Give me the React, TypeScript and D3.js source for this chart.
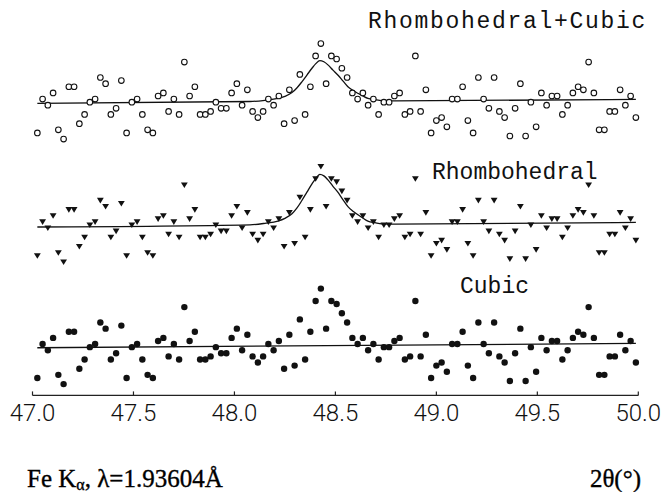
import React from "react";
import * as d3 from "d3";

const W = 665;
const H = 492;

// 2θ scan grid (degrees)
const TWO_THETA = [
  47.024, 47.05, 47.076, 47.102, 47.128, 47.154, 47.18, 47.206, 47.232, 47.258,
  47.284, 47.31, 47.336, 47.362, 47.388, 47.414, 47.44, 47.466, 47.492, 47.518,
  47.544, 47.57, 47.596, 47.622, 47.648, 47.674, 47.7, 47.726, 47.752, 47.778,
  47.804, 47.83, 47.856, 47.882, 47.908, 47.934, 47.96, 47.986, 48.012, 48.038,
  48.064, 48.09, 48.116, 48.142, 48.168, 48.194, 48.22, 48.246, 48.272, 48.298,
  48.324, 48.35, 48.376, 48.402, 48.428, 48.454, 48.48, 48.506, 48.532, 48.558,
  48.584, 48.61, 48.636, 48.662, 48.688, 48.714, 48.74, 48.766, 48.792, 48.818,
  48.844, 48.87, 48.896, 48.922, 48.948, 48.974, 49.0, 49.026, 49.052, 49.078,
  49.104, 49.13, 49.156, 49.182, 49.208, 49.234, 49.26, 49.286, 49.312, 49.338,
  49.364, 49.39, 49.416, 49.442, 49.468, 49.494, 49.52, 49.546, 49.572, 49.598,
  49.624, 49.65, 49.676, 49.702, 49.728, 49.754, 49.78, 49.806, 49.832, 49.858,
  49.884, 49.91, 49.936, 49.962, 49.988,
];

// measured counts at each step
const COUNTS = [
  12, 23, 21, 25, 13, 10, 27, 27, 15, 18,
  22, 23, 30, 28, 18, 20, 29, 12, 22, 23,
  18, 13, 12, 24, 25, 19, 23, 18, 35, 24,
  27, 18, 18, 19, 22, 20, 20, 25, 28, 21,
  26, 19, 17, 19, 23, 21, 24, 15, 26, 16,
  31, 18, 27, 37, 41, 28, 37, 36, 33, 30,
  25, 23, 25, 21, 23, 18, 22, 22, 24, 25,
  18, 19, 37, 19, 26, 12, 16, 17, 14, 23,
  23, 27, 16, 12, 30, 23, 20, 30, 19, 17,
  11, 20, 28, 11, 22, 14, 25, 21, 24, 24,
  18, 21, 25, 27, 26, 35, 25, 13, 13, 19,
  19, 26, 21, 24, 17,
];

// fitted profiles, sampled in 2θ
const FIT_THETA = [
  47.024, 48.077, 48.151, 48.215, 48.25, 48.285, 48.309, 48.334, 48.359, 48.384,
  48.403, 48.423, 48.443, 48.463, 48.488, 48.512, 48.537, 48.562, 48.587, 48.611,
  48.636, 48.661, 48.696, 48.73, 48.795, 49.988,
];
const FIT_MIXED = [
  21.6, 22.2, 22.6, 23.2, 23.9, 25.1, 26.6, 28.6, 30.8, 33.0,
  34.5, 35.5, 35.1, 34.1, 32.4, 30.8, 28.9, 27.0, 25.8, 24.9,
  24.0, 23.2, 22.8, 22.5, 22.4, 22.9,
];
const FIT_RHOMB = [
  21.4, 22.1, 22.6, 23.3, 24.2, 25.7, 27.5, 30.0, 32.7, 35.4,
  37.2, 38.5, 38.0, 36.7, 34.6, 32.7, 30.3, 28.0, 26.5, 25.4,
  24.3, 23.3, 22.8, 22.4, 22.3, 22.9,
];
const FIT_CUBIC_THETA = [47.024, 49.988];
const FIT_CUBIC = [21.8, 23.2];

const X_TICKS = [47.0, 47.5, 48.0, 48.5, 49.0, 49.5, 50.0];
const SERIES_LABELS = ["Rhombohedral+Cubic", "Rhombohedral", "Cubic"];

type Marker = "open" | "triangle" | "dot";

const x = d3.scaleLinear().domain([47, 50]).range([32.5, 638.3]);
const fmt = d3.format(".1f");

const panels: {
  label: string;
  top: number;
  marker: Marker;
  fitX: number[];
  fitY: number[];
  lx: number;
  ly: number;
  spacing: number;
}[] = [
  { label: SERIES_LABELS[0], top: 0, marker: "open", fitX: FIT_THETA, fitY: FIT_MIXED, lx: 368, ly: 28, spacing: 1.7 },
  { label: SERIES_LABELS[1], top: 123, marker: "triangle", fitX: FIT_THETA, fitY: FIT_RHOMB, lx: 432, ly: 179, spacing: 0 },
  { label: SERIES_LABELS[2], top: 245, marker: "dot", fitX: FIT_CUBIC_THETA, fitY: FIT_CUBIC, lx: 460, ly: 293, spacing: 0 },
];

const tri = "M-3.4,-2.7L3.4,-2.7L0,2.9Z";

function Panel({ p }: { p: (typeof panels)[number] }) {
  const y = d3.scaleLinear().domain([0, 50]).range([169.9 + p.top, 15.9 + p.top]);
  const line = d3
    .line<number>()
    .x((_, i) => x(p.fitX[i]))
    .y((v) => y(v))
    .curve(d3.curveMonotoneX);
  return (
    <g>
      <path d={line(p.fitY) || ""} fill="none" stroke="#111" strokeWidth={1.3} />
      {COUNTS.map((c, i) => {
        const cx = x(TWO_THETA[i]);
        const cy = y(c);
        if (p.marker === "open")
          return <circle key={i} cx={cx} cy={cy} r={2.8} fill="#fff" stroke="#111" strokeWidth={1.1} />;
        if (p.marker === "dot") return <circle key={i} cx={cx} cy={cy} r={3.2} fill="#111" />;
        return <path key={i} d={tri} transform={`translate(${cx},${cy})`} fill="#111" />;
      })}
      <text
        x={p.lx}
        y={p.ly}
        fontFamily="'Courier New', Courier, 'Liberation Mono', monospace"
        fontSize={23}
        letterSpacing={p.spacing}
        fill="#111"
      >
        {p.label}
      </text>
    </g>
  );
}

export default function App() {
  const axisY = 395.4;
  return (
    <svg
      width={W}
      height={H}
      viewBox={`0 0 ${W} ${H}`}
      style={{ position: "absolute", left: 0, top: 0, background: "#fff" }}
    >
      {panels.map((p) => (
        <Panel key={p.label} p={p} />
      ))}
      <line x1={x(47)} x2={x(50)} y1={axisY} y2={axisY} stroke="#222" strokeWidth={1.4} />
      {X_TICKS.map((t) => (
        <g key={t}>
          <line x1={x(t)} x2={x(t)} y1={axisY} y2={axisY - 4} stroke="#222" strokeWidth={1.2} />
          <text
            x={x(t)}
            y={421}
            textAnchor="middle"
            fontFamily="Roboto, 'Liberation Sans', sans-serif"
            fontWeight={300}
            fontSize={24}
            fill="#111"
          >
            {fmt(t)}
          </text>
        </g>
      ))}
      <text
        x={27}
        y={487}
        fontFamily="'Liberation Serif', 'Times New Roman', serif"
        fontSize={25}
        stroke="#000"
        strokeWidth={0.35}
        fill="#000"
      >
        Fe K<tspan fontSize={16} dy={3}>α</tspan>
        <tspan dy={-3}>, λ=1.93604Å</tspan>
      </text>
      <text
        x={641}
        y={487}
        textAnchor="end"
        fontFamily="'Liberation Serif', 'Times New Roman', serif"
        fontSize={25}
        stroke="#000"
        strokeWidth={0.35}
        fill="#000"
      >
        2θ(°)
      </text>
    </svg>
  );
}
